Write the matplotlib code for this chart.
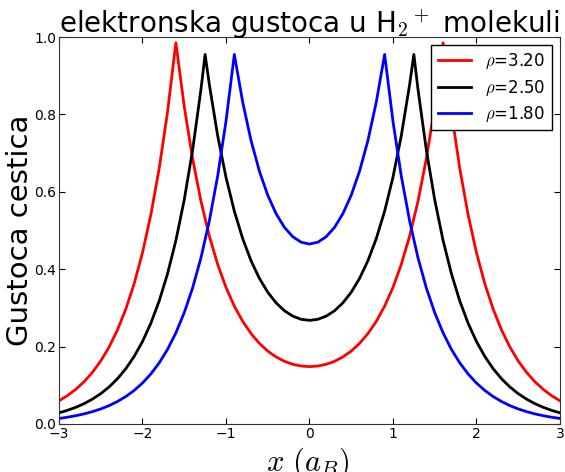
import matplotlib
matplotlib.use("Agg")
import matplotlib.pyplot as plt
import numpy as np

plt.rcParams["mathtext.fontset"] = "cm"

# Half-curves (x >= 0), mirrored about x = 0
x_red = [0.0, 0.1, 0.2, 0.3, 0.4, 0.5, 0.6, 0.7, 0.8, 0.9, 1.0, 1.1, 1.2, 1.3, 1.4, 1.5, 1.6,
         1.7, 1.8, 1.9, 2.0, 2.1, 2.2, 2.3, 2.4, 2.5, 2.6, 2.7, 2.8, 2.9, 3.0]
y_red = [0.1483, 0.1498, 0.1543, 0.1620, 0.1733, 0.1885, 0.2084, 0.2336, 0.2652, 0.3045, 0.3530,
         0.4128, 0.4861, 0.5760, 0.6860, 0.8205, 0.9850,
         0.8064, 0.6603, 0.5406, 0.4426, 0.3624, 0.2967, 0.2429, 0.1989, 0.1628, 0.1333, 0.1091,
         0.0894, 0.0732, 0.0599]

x_black = [0.0, 0.1, 0.2, 0.3, 0.4, 0.5, 0.6, 0.7, 0.8, 0.9, 1.0, 1.1, 1.2, 1.25,
           1.3, 1.4, 1.5, 1.6, 1.7, 1.8, 1.9, 2.0, 2.1, 2.2, 2.3, 2.4, 2.5, 2.6, 2.7, 2.8, 2.9, 3.0]
y_black = [0.2678, 0.2705, 0.2787, 0.2926, 0.3130, 0.3405, 0.3764, 0.4219, 0.4790, 0.5500, 0.6377,
           0.7455, 0.8780, 0.9550,
           0.8641, 0.7075, 0.5792, 0.4742, 0.3883, 0.3179, 0.2603, 0.2131, 0.1745, 0.1428, 0.1169,
           0.0957, 0.0784, 0.0642, 0.0525, 0.0430, 0.0352, 0.0288]

x_blue = [0.0, 0.1, 0.2, 0.3, 0.4, 0.5, 0.6, 0.7, 0.8, 0.9,
          1.0, 1.1, 1.2, 1.3, 1.4, 1.5, 1.6, 1.7, 1.8, 1.9, 2.0, 2.1, 2.2, 2.3, 2.4, 2.5, 2.6,
          2.7, 2.8, 2.9, 3.0]
y_blue = [0.4650, 0.4697, 0.4839, 0.5081, 0.5435, 0.5913, 0.6535, 0.7326, 0.8318, 0.9550,
          0.7819, 0.6401, 0.5241, 0.4291, 0.3513, 0.2876, 0.2355, 0.1928, 0.1579, 0.1292, 0.1058,
          0.0866, 0.0709, 0.0581, 0.0475, 0.0389, 0.0319, 0.0261, 0.0214, 0.0175, 0.0143]

labels = [r"$\rho$=3.20", r"$\rho$=2.50", r"$\rho$=1.80"]
colors = ["red", "black", "blue"]

x_ticks = [-3, -2, -1, 0, 1, 2, 3]
y_ticks = [0.0, 0.2, 0.4, 0.6, 0.8, 1.0]


def full(xh, yh):
    xh = np.asarray(xh)
    yh = np.asarray(yh)
    return np.concatenate([-xh[::-1], xh[1:]]), np.concatenate([yh[::-1], yh[1:]])


fig = plt.figure(figsize=(5.65, 4.72), dpi=100)
ax = fig.add_axes([0.1044, 0.1017, 0.8867, 0.8199])

for (xh, yh), lab, c in zip([(x_red, y_red), (x_black, y_black), (x_blue, y_blue)], labels, colors):
    xf, yf = full(xh, yh)
    ax.plot(xf, yf, color=c, lw=2, label=lab)

ax.set_xlim(-3, 3)
ax.set_ylim(0, 1)
ax.set_xticks(x_ticks)
ax.set_yticks(y_ticks)
ax.set_yticklabels([f"{v:.1f}" for v in y_ticks])
ax.tick_params(direction="in", top=True, right=True, length=4, labelsize=10, pad=2)
for s in ax.spines.values():
    s.set_color("#333333")

ax.set_title(r"elektronska gustoca u H$_2$$^+$ molekuli", fontsize=20, pad=3)
ax.set_xlabel(r"$x\ (a_B)$", fontsize=22)
ax.xaxis.set_label_coords(0.497, -0.055)
ax.xaxis.label.set_va("top")
ax.set_ylabel("Gustoca cestica", fontsize=21)
ax.yaxis.set_label_coords(-0.050, 0.5)

leg = ax.legend(loc="upper right", fontsize=12, fancybox=False, borderaxespad=0.5,
                handlelength=2.0, labelspacing=0.4, framealpha=1.0)
leg.get_frame().set_edgecolor("black")

fig.savefig("out.png", dpi=100)
